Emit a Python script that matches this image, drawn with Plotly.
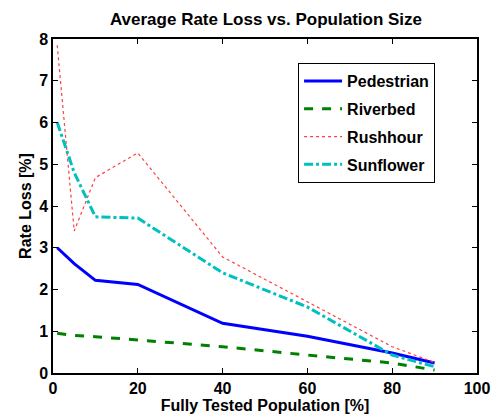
import plotly.graph_objects as go

x_pop = [1, 5, 10, 20, 40, 60, 80, 90]
pedestrian = [3.0, 2.62, 2.22, 2.12, 1.19, 0.88, 0.48, 0.24]
riverbed = [0.95, 0.90, 0.87, 0.79, 0.63, 0.43, 0.24, 0.07]
rushhour = [7.85, 3.40, 4.68, 5.27, 2.78, 1.70, 0.63, 0.25]
sunflower = [6.0, 4.8, 3.74, 3.71, 2.4, 1.58, 0.43, 0.15]

x_ticks = [0, 20, 40, 60, 80, 100]
y_ticks = [0, 1, 2, 3, 4, 5, 6, 7, 8]

FONT = "Liberation Sans, Arial, sans-serif"
FS = 16

series = [
    ("Pedestrian", pedestrian, "#0000ff", "solid", 3),
    ("Riverbed", riverbed, "#008000", "dash", 3),
    ("Rushhour", rushhour, "#ff4040", "dot", 1.2),
    ("Sunflower", sunflower, "#00bfbf", "dashdot", 3),
]

fig = go.Figure()
for name, vals, color, dash, w in series:
    fig.add_trace(go.Scatter(
        x=x_pop, y=vals, mode="lines", name=f"<b>{name}</b>",
        legendgroup=name,
        line=dict(color=color, dash=dash, width=w),
    ))

axis_common = dict(
    showline=True, linecolor="black", linewidth=1.5, mirror="ticks",
    ticks="inside", ticklen=5, tickcolor="black", showgrid=False, zeroline=False,
    automargin=False,
    tickfont=dict(family=FONT, size=FS, color="black", weight="bold"),
)

fig.update_layout(
    width=500, height=417,
    margin=dict(l=53, r=23, t=39, b=44),
    plot_bgcolor="white", paper_bgcolor="white",
    title=dict(text="<b>Average Rate Loss vs. Population Size</b>",
               x=0.532, xanchor="center", y=1 - 19 / 417, yanchor="middle",
               font=dict(family=FONT, size=17, color="black")),
    xaxis=dict(range=[0, 100], tickvals=x_ticks, **axis_common,
               title=dict(text="<b>Fully Tested Population [%]</b>", standoff=0,
                          font=dict(family=FONT, size=FS, color="black"))),
    yaxis=dict(range=[0, 8], tickvals=y_ticks, **axis_common,
               title=dict(text="<b>Rate Loss [%]</b>", standoff=4,
                          font=dict(family=FONT, size=FS, color="black"))),
    legend=dict(x=0.578, y=0.928, xanchor="left", yanchor="top",
                bgcolor="white", bordercolor="black", borderwidth=1,
                font=dict(family=FONT, size=FS, color="black"),
                tracegroupgap=4, itemwidth=38),
)

fig.write_html("out.html", config={"displayModeBar": False},
               post_script="document.body.style.margin='0px';")
